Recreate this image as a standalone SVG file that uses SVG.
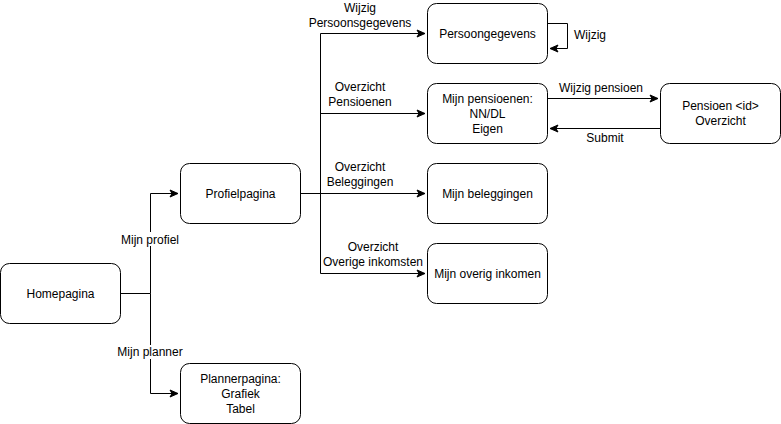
<svg xmlns="http://www.w3.org/2000/svg" width="781" height="424" viewBox="0 0 781 424">
<defs>
<marker id="arr" markerWidth="10" markerHeight="10" refX="9" refY="5" orient="auto" markerUnits="userSpaceOnUse">
<path d="M1,1.5 L9,5 L1,8.5 L3,5 Z" fill="#000" stroke="#000" stroke-width="1"/>
</marker>
<style>
.n rect{fill:#fff;stroke:#000;stroke-width:1}
text{font-family:"Liberation Sans",Arial,sans-serif;font-size:12px;fill:#000;text-anchor:middle}
.c path{fill:none;stroke:#000;stroke-width:1}
.c .a{marker-end:url(#arr)}
.lbl{fill:#fff}
</style>
</defs>
<rect width="781" height="424" fill="#fff"/>
<g class="c" id="connectors">
<path d="M120.5,293.5 H150.5 V193.5 H178" class="a"/>
<path d="M150.5,293.5 V393.5 H178" class="a"/>
<path d="M300.5,193.5 H425" class="a"/>
<path d="M320.5,193.5 V33.5 H425" class="a"/>
<path d="M320.5,113.5 H425" class="a"/>
<path d="M320.5,193.5 V273.5 H425" class="a"/>
<path d="M547.5,23.5 H567.5 V48.5 H550" class="a"/>
<path d="M547.5,98.5 H658" class="a"/>
<path d="M660.5,128.5 H550" class="a"/>
<rect class="lbl" x="112" y="232" width="76" height="14"/>
<rect class="lbl" x="110" y="345" width="80" height="14"/>
<text x="150" y="244">Mijn profiel</text>
<text x="150" y="356">Mijn planner</text>
<text x="360" y="12">Wijzig</text>
<text x="360" y="27">Persoonsgegevens</text>
<text x="360" y="91">Overzicht</text>
<text x="360" y="106">Pensioenen</text>
<text x="360" y="171">Overzicht</text>
<text x="360" y="186">Beleggingen</text>
<text x="373" y="251">Overzicht</text>
<text x="373" y="266">Overige inkomsten</text>
<text x="590" y="39">Wijzig</text>
<text x="601" y="92">Wijzig pensioen</text>
<text x="605" y="142">Submit</text>
</g>
<g class="n" id="homepagina"><rect x="0.5" y="263.5" width="120" height="60" rx="9"/><text x="60.5" y="297.5">Homepagina</text></g>
<g class="n" id="profielpagina"><rect x="180.5" y="163.5" width="120" height="60" rx="9"/><text x="240.5" y="197.5">Profielpagina</text></g>
<g class="n" id="plannerpagina"><rect x="180.5" y="363.5" width="120" height="60" rx="9"/><text x="240.5" y="383">Plannerpagina:</text><text x="240.5" y="398">Grafiek</text><text x="240.5" y="413">Tabel</text></g>
<g class="n" id="persoongegevens"><rect x="427.5" y="3.5" width="120" height="60" rx="9"/><text x="487.5" y="37.5">Persoongegevens</text></g>
<g class="n" id="mijnpensioenen"><rect x="427.5" y="83.5" width="120" height="60" rx="9"/><text x="487.5" y="103">Mijn pensioenen:</text><text x="487.5" y="118">NN/DL</text><text x="487.5" y="133">Eigen</text></g>
<g class="n" id="mijnbeleggingen"><rect x="427.5" y="163.5" width="120" height="60" rx="9"/><text x="487.5" y="197.5">Mijn beleggingen</text></g>
<g class="n" id="mijnoverig"><rect x="427.5" y="243.5" width="120" height="60" rx="9"/><text x="487.5" y="277.5">Mijn overig inkomen</text></g>
<g class="n" id="pensioenid"><rect x="660.5" y="83.5" width="120" height="60" rx="9"/><text x="720.5" y="110">Pensioen &lt;id&gt;</text><text x="720.5" y="125">Overzicht</text></g>
</svg>
